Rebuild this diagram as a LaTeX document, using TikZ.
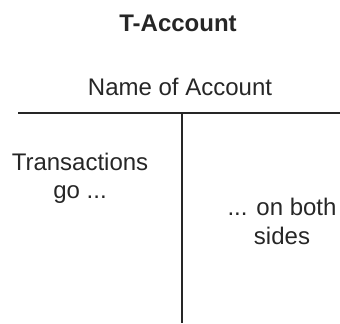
\documentclass[tikz,border=0pt]{standalone}
\usepackage{fontspec}
\setmainfont{Liberation Sans}
\begin{document}
\begin{tikzpicture}[x=0.5pt,y=-0.5pt,
  lbl/.style={inner sep=0pt, outer sep=0pt, align=center, anchor=base,
    font=\fontsize{12pt}{14.4pt}\selectfont, text=black!85},
  rule/.style={line width=1pt, draw=black!85}]
\useasboundingbox (0,0) rectangle (340,324);
\node[lbl, font=\fontsize{12pt}{14.4pt}\selectfont\bfseries] (title) at (178,32) {T-Account};
\node[lbl] (name) at (180,96) {Name of Account};
\node[lbl] (left) at (80,199) {Transactions\\go ...};
\node[lbl] (right) at (282,244) {... on both\\sides};
\coordinate (hl) at (18,113);
\coordinate (hr) at (340,113);
\coordinate (vt) at (181.5,113);
\coordinate (vb) at (181.5,323);
\draw[rule] (hl) -- (hr);
\draw[rule] (vt) -- (vb);
\end{tikzpicture}
\end{document}
